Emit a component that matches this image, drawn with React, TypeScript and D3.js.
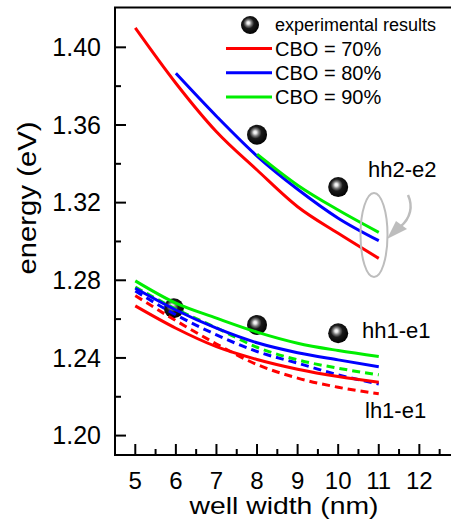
import React from "react";
import * as d3 from "d3";

const wellWidth = [5, 6, 7, 8, 9, 10, 11];

// hh2-e2 transitions
const hh2Cbo70 = [1.41, 1.3815, 1.3565, 1.3368, 1.3179, 1.3042, 1.2913];
const hh2Cbo80 = [null, 1.3866, 1.3645, 1.344, 1.3269, 1.312, 1.3004];
const hh2Cbo90 = [null, null, null, 1.345, 1.329, 1.3162, 1.3047];

// hh1-e1 transitions (solid)
const hh1Cbo70 = [1.2668, 1.2553, 1.2458, 1.2392, 1.2342, 1.2304, 1.2275];
const hh1Cbo80 = [1.2759, 1.2647, 1.2553, 1.2478, 1.2427, 1.239, 1.2355];
const hh1Cbo90 = [1.2797, 1.2682, 1.2605, 1.2533, 1.2476, 1.2438, 1.2407];

// lh1-e1 transitions (dashed)
const lh1Cbo70 = [1.2721, 1.2592, 1.2472, 1.2366, 1.2296, 1.2249, 1.2215];
const lh1Cbo80 = [1.2745, 1.2622, 1.2519, 1.2433, 1.2373, 1.2313, 1.2266];
const lh1Cbo90 = [1.2765, 1.2652, 1.2555, 1.2455, 1.239, 1.2347, 1.2313];

const expX = [8, 10, 5.95, 8, 10];
const expY = [1.355, 1.328, 1.2656, 1.257, 1.2527];

const xTicks = [5, 6, 7, 8, 9, 10, 11, 12];
const xMinor = [5.5, 6.5, 7.5, 8.5, 9.5, 10.5, 11.5, 12.5];
const yTicks = [1.2, 1.24, 1.28, 1.32, 1.36, 1.4];
const yMinor = [1.22, 1.26, 1.3, 1.34, 1.38];

const legendLabels = ["CBO = 70%", "CBO = 80%", "CBO = 90%"];
const colors = ["#ff0000", "#0000ff", "#00ee00"];

const FONT = "Arial, 'Liberation Sans', sans-serif";

export default function App() {
  const W = 451;
  const H = 522;
  const x = d3.scaleLinear().domain([4.5, 12.78]).range([115, 451]);
  const y = d3.scaleLinear().domain([1.19, 1.42]).range([455, 8.5]);

  const line = d3
    .line<[number, number | null]>()
    .defined((d) => d[1] != null)
    .x((d) => x(d[0]))
    .y((d) => y(d[1] as number))
    .curve(d3.curveMonotoneX);

  const mk = (vals: (number | null)[]) =>
    line(wellWidth.map((w, i) => [w, vals[i]] as [number, number | null])) || "";

  const solids = [
    [hh2Cbo70, hh2Cbo80, hh2Cbo90],
    [hh1Cbo70, hh1Cbo80, hh1Cbo90],
  ];
  const dashed = [lh1Cbo70, lh1Cbo80, lh1Cbo90];

  const x0 = 115;
  const yb = 455;

  return (
    <svg
      width={W}
      height={H}
      style={{ position: "absolute", left: 0, top: 0, background: "#fff" }}
      fontFamily={FONT}
    >
      <defs>
        <radialGradient id="ball" cx="0.45" cy="0.42" r="0.6" fx="0.4" fy="0.38">
          <stop offset="0" stopColor="#ffffff" />
          <stop offset="0.12" stopColor="#e8e8e8" />
          <stop offset="0.3" stopColor="#777" />
          <stop offset="0.5" stopColor="#1a1a1a" />
          <stop offset="1" stopColor="#000" />
        </radialGradient>
      </defs>
      <rect x={0} y={0} width={W} height={H} fill="#fff" />

      {/* experimental points */}
      {expX.map((v, i) => (
        <circle key={i} cx={x(v)} cy={y(expY[i])} r={10} fill="url(#ball)" />
      ))}

      {/* dashed curves */}
      {dashed.map((d, i) => (
        <path
          key={"d" + i}
          d={mk(d)}
          fill="none"
          stroke={colors[i]}
          strokeWidth={3}
          strokeDasharray="8,5"
        />
      ))}
      {/* solid curves */}
      {solids.map((grp, g) =>
        grp.map((d, i) => (
          <path key={"s" + g + i} d={mk(d)} fill="none" stroke={colors[i]} strokeWidth={3} />
        ))
      )}

      {/* ellipse and arrow */}
      <ellipse cx={374} cy={235} rx={13.5} ry={42} fill="none" stroke="#bdbdbd" strokeWidth={2} />
      <path d="M408,195 C413,206 411,218 400,227" fill="none" stroke="#bdbdbd" strokeWidth={2.5} />
      <path d="M387,239 L396,221 L407,229 Z" fill="#bdbdbd" />

      {/* axes */}
      <line x1={x0} y1={7.5} x2={x0} y2={yb} stroke="#000" strokeWidth={2} />
      <line x1={x0 - 1} y1={yb} x2={W} y2={yb} stroke="#000" strokeWidth={2} />
      <line x1={x0 - 1} y1={7.5} x2={W} y2={7.5} stroke="#000" strokeWidth={2} />

      {xTicks.map((t) => (
        <g key={"xt" + t}>
          <line x1={x(t)} x2={x(t)} y1={yb} y2={yb - 11} stroke="#000" strokeWidth={2} />
          <text x={x(t)} y={489} fontSize={24} textAnchor="middle" fill="#000">
            {t}
          </text>
        </g>
      ))}
      {xMinor.map((t) => (
        <line key={"xm" + t} x1={x(t)} x2={x(t)} y1={yb} y2={yb - 6} stroke="#000" strokeWidth={2} />
      ))}
      {yTicks.map((t) => (
        <g key={"yt" + t}>
          <line x1={x0} x2={x0 + 11} y1={y(t)} y2={y(t)} stroke="#000" strokeWidth={2} />
          <text
            x={101}
            y={y(t)}
            dy="0.35em"
            fontSize={25}
            textAnchor="end"
            fill="#000"
          >
            {t.toFixed(2)}
          </text>
        </g>
      ))}
      {yMinor.map((t) => (
        <line key={"ym" + t} x1={x0} x2={x0 + 6} y1={y(t)} y2={y(t)} stroke="#000" strokeWidth={2} />
      ))}

      <text
        x={284}
        y={514}
        fontSize={24}
        textAnchor="middle"
        textLength={189}
        lengthAdjust="spacingAndGlyphs"
        fill="#000"
      >
        well width (nm)
      </text>
      <text
        transform="translate(36,198) rotate(-90)"
        fontSize={26}
        textAnchor="middle"
        textLength={153}
        lengthAdjust="spacingAndGlyphs"
        fill="#000"
      >
        energy (eV)
      </text>

      {/* annotations */}
      <text x={368} y={177} fontSize={22} fill="#000">
        hh2-e2
      </text>
      <text x={362} y={338} fontSize={22} fill="#000">
        hh1-e1
      </text>
      <text x={365} y={418} fontSize={22} fill="#000">
        lh1-e1
      </text>

      {/* legend */}
      <circle cx={250} cy={25} r={9} fill="url(#ball)" />
      <text x={275} y={25} dy="0.35em" fontSize={18} fill="#000">
        experimental results
      </text>
      {legendLabels.map((l, i) => (
        <g key={"lg" + i}>
          <line
            x1={226}
            x2={272}
            y1={48.5 + i * 24.2}
            y2={48.5 + i * 24.2}
            stroke={colors[i]}
            strokeWidth={3}
          />
          <text x={275} y={48.5 + i * 24.2} dy="0.35em" fontSize={20} fill="#000">
            {l}
          </text>
        </g>
      ))}
    </svg>
  );
}
